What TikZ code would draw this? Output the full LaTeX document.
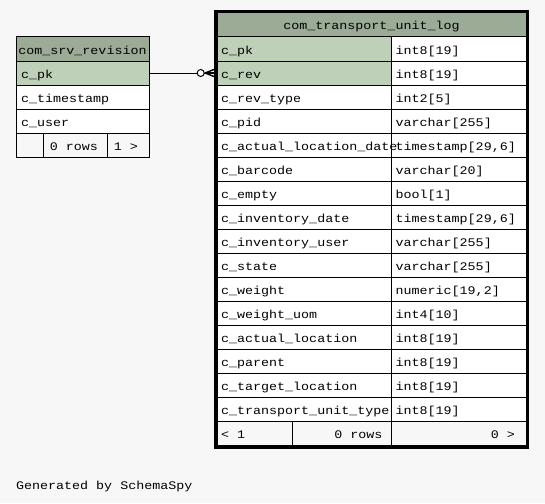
\documentclass[tikz,border=0pt]{standalone}
\usepackage{fontspec}
\setmonofont[FakeStretch=1.15]{Liberation Mono}
\usetikzlibrary{calc}
\definecolor{pagebg}{HTML}{F7F7F7}
\definecolor{headbg}{HTML}{9BAB96}
\definecolor{keybg}{HTML}{BED1B8}
\tikzset{
  cellbox/.style={draw=black, line width=1pt, inner sep=0pt, outer sep=0pt, minimum height=24pt, anchor=north west},
  celltext/.style={inner sep=0pt, font=\ttfamily\fontsize{11.6}{14}\selectfont},
  frame/.style={draw=black, line width=3pt, inner sep=0pt, outer sep=0pt, anchor=north west},
  relline/.style={draw=black, line width=1pt},
}
% one row of the log table: #1 index, #4 fill of the name cell
\newcommand\fieldrow[4]{%
  \node[cellbox, fill=#4, minimum width=174.5pt] (n#1) at (217,{37+24*#1}) {};
  \node[cellbox, fill=white, minimum width=134.5pt] (t#1) at (391.5,{37+24*#1}) {};
}
% texts of one row: #1 index, #2 column name, #3 type
\newcommand\fieldtext[3]{%
  \node[celltext, anchor=base west] (nt#1) at ([xshift=4pt,yshift=-17pt]n#1.north west) {#2};
  \node[celltext, anchor=base west] (tt#1) at ([xshift=4pt,yshift=-17pt]t#1.north west) {#3};
}
\begin{document}
\begin{tikzpicture}[x=1pt, y=-1pt]
\fill[pagebg] (0,0) rectangle (545,503);
\useasboundingbox (0,0) rectangle (545,503);

% ---------- com_srv_revision ----------
\node[cellbox, fill=headbg, minimum width=133pt] (lhead) at (16,37) {};
\node[celltext, anchor=base] (lheadt) at ([yshift=-17pt]lhead.north) {com\_srv\_revision};
\node[cellbox, fill=keybg, minimum width=133pt] (lpk) at (16,61) {};
\node[celltext, anchor=base west] (lpkt) at ([xshift=5pt,yshift=-17pt]lpk.north west) {c\_pk};
\node[cellbox, fill=white, minimum width=133pt] (lts) at (16,85) {};
\node[celltext, anchor=base west] (ltst) at ([xshift=5pt,yshift=-17pt]lts.north west) {c\_timestamp};
\node[cellbox, fill=white, minimum width=133pt] (lus) at (16,109) {};
\node[celltext, anchor=base west] (lust) at ([xshift=5pt,yshift=-17pt]lus.north west) {c\_user};
\node[cellbox, fill=pagebg, minimum width=27pt] (lf1) at (16,133) {};
\node[cellbox, fill=pagebg, minimum width=64pt] (lf2) at (43,133) {};
\node[cellbox, fill=pagebg, minimum width=42pt] (lf3) at (107,133) {};
\node[celltext, anchor=base east] (lf2t) at ([xshift=-9pt,yshift=-17pt]lf2.north east) {0 rows};
\node[celltext, anchor=base east] (lf3t) at ([xshift=-11pt,yshift=-17pt]lf3.north east) {1 >};

% ---------- com_transport_unit_log ----------
\node[cellbox, fill=headbg, minimum width=309pt] (rhead) at (217,13) {};
\node[celltext, anchor=base] (rheadt) at ([yshift=-17pt]rhead.north) {com\_transport\_unit\_log};
\fieldrow{0}{}{}{keybg}
\fieldrow{1}{}{}{keybg}
\fieldrow{2}{}{}{white}
\fieldrow{3}{}{}{white}
\fieldrow{4}{}{}{white}
\fieldrow{5}{}{}{white}
\fieldrow{6}{}{}{white}
\fieldrow{7}{}{}{white}
\fieldrow{8}{}{}{white}
\fieldrow{9}{}{}{white}
\fieldrow{10}{}{}{white}
\fieldrow{11}{}{}{white}
\fieldrow{12}{}{}{white}
\fieldrow{13}{}{}{white}
\fieldrow{14}{}{}{white}
\fieldrow{15}{}{}{white}
\fieldtext{0}{c\_pk}{int8[19]}
\fieldtext{1}{c\_rev}{int8[19]}
\fieldtext{2}{c\_rev\_type}{int2[5]}
\fieldtext{3}{c\_pid}{varchar[255]}
\fieldtext{4}{c\_actual\_location\_date}{timestamp[29,6]}
\fieldtext{5}{c\_barcode}{varchar[20]}
\fieldtext{6}{c\_empty}{bool[1]}
\fieldtext{7}{c\_inventory\_date}{timestamp[29,6]}
\fieldtext{8}{c\_inventory\_user}{varchar[255]}
\fieldtext{9}{c\_state}{varchar[255]}
\fieldtext{10}{c\_weight}{numeric[19,2]}
\fieldtext{11}{c\_weight\_uom}{int4[10]}
\fieldtext{12}{c\_actual\_location}{int8[19]}
\fieldtext{13}{c\_parent}{int8[19]}
\fieldtext{14}{c\_target\_location}{int8[19]}
\fieldtext{15}{c\_transport\_unit\_type}{int8[19]}
\node[cellbox, fill=pagebg, minimum width=75pt] (rf1) at (217,421) {};
\node[cellbox, fill=pagebg, minimum width=99.5pt] (rf2) at (292,421) {};
\node[cellbox, fill=pagebg, minimum width=134.5pt] (rf3) at (391.5,421) {};
\node[celltext, anchor=base west] (rf1t) at ([xshift=4pt,yshift=-17pt]rf1.north west) {< 1};
\node[celltext, anchor=base east] (rf2t) at ([xshift=-9pt,yshift=-17pt]rf2.north east) {0 rows};
\node[celltext, anchor=base east] (rf3t) at ([xshift=-11pt,yshift=-17pt]rf3.north east) {0 >};
\node[frame, minimum width=312pt, minimum height=436pt] (rframe) at (215.5,11.5) {};

% ---------- relationship: c_rev -> com_srv_revision.c_pk ----------
\node[draw=black, line width=1pt, fill=white, circle, inner sep=0pt, outer sep=0pt, minimum size=7pt] (ring) at (200.7,73) {};
\coordinate (foot) at (205,73);
\draw[relline] (lpk.east) -- (ring.west);
\draw[relline] (ring.east) -- (foot);
\draw[relline, line width=1.4pt] (foot) -- (214,69.5);
\draw[relline, line width=1.4pt] (foot) -- (214,73);
\draw[relline, line width=1.4pt] (foot) -- (214,76.5);

% ---------- footer caption ----------
\node[celltext, anchor=base west] (gen) at (16,489) {Generated by SchemaSpy};
\end{tikzpicture}
\end{document}
